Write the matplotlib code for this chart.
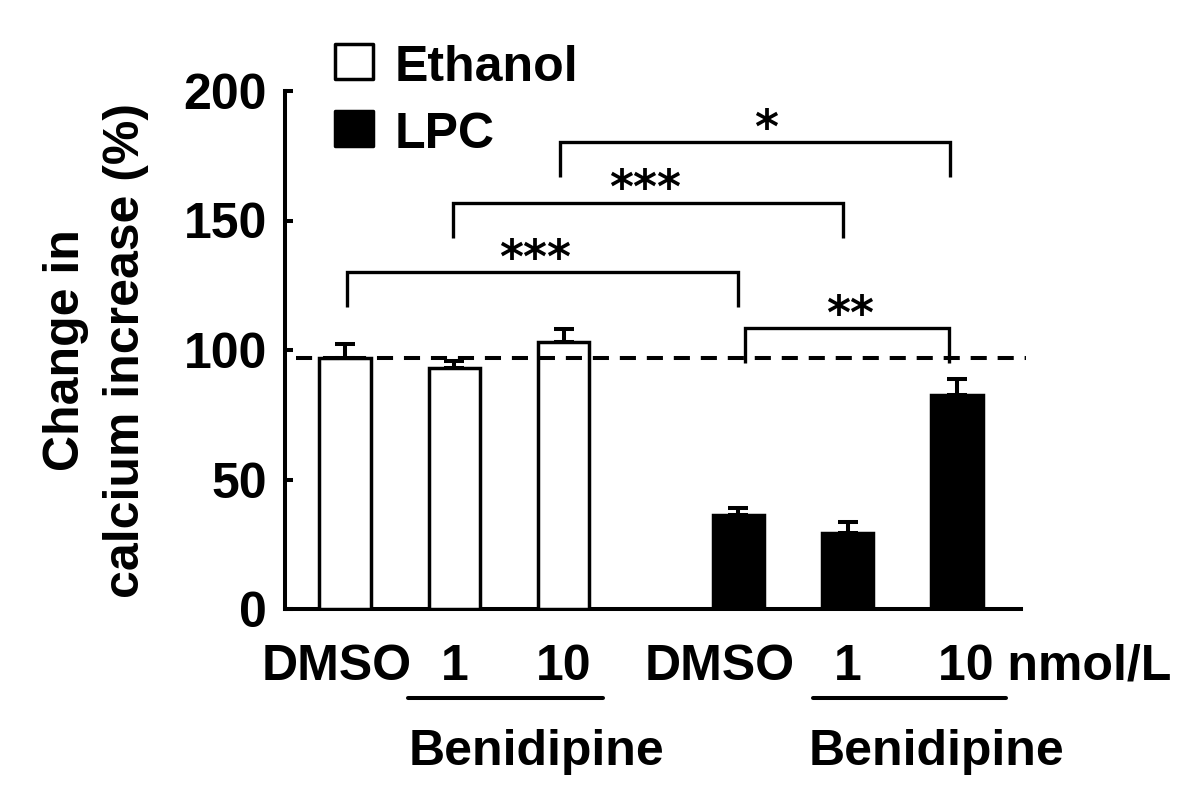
import matplotlib
matplotlib.use('Agg')
import numpy as np
import matplotlib.pyplot as plt
from matplotlib.patches import Rectangle

# ---- data ----
categories = ['DMSO', '1', '10', 'DMSO', '1', '10']
groups = ['Ethanol', 'Ethanol', 'Ethanol', 'LPC', 'LPC', 'LPC']
means = [97.0, 92.9, 103.1, 36.3, 29.2, 82.7]
sems = [5.3, 3.0, 4.9, 2.8, 4.3, 6.1]
reference_level = 97
yticks = [0, 50, 100, 150, 200]
bracket_pairs = [(0, 3), (1, 4), (2, 5), (3, 5)]
bracket_heights = [130.0, 156.9, 180.2, 108.4]
bracket_labels = ['***', '***', '*', '**']
legend_labels = ['Ethanol', 'LPC']
unit_label = 'nmol/L'
drug_label = 'Benidipine'
ylabel_lines = ['Change in', 'calcium increase (%)']

# ---- style ----
SANS = ['Liberation Sans', 'DejaVu Sans']
FS = 36
LW = 2.9
colors = {'Ethanol': 'white', 'LPC': 'black'}

fig = plt.figure(figsize=(12, 7.93), dpi=100)
ax = fig.add_axes([285 / 1200, 1 - 609 / 793, (1021 - 285) / 1200, (609 - 91) / 793])

x = np.arange(len(means)) + np.array([0.0 if g == 'Ethanol' else 0.6 for g in groups])

ax.bar(x, means, width=0.47, color=[colors[g] for g in groups],
       edgecolor='black', linewidth=2.5, zorder=3)
ax.errorbar(x, means, yerr=[np.zeros(len(sems)), sems], fmt='none', ecolor='black',
            elinewidth=LW, capsize=7.5, capthick=LW, zorder=2)

ax.axhline(reference_level, xmin=0.015, xmax=1.007, color='black', lw=LW,
           ls=(0, (4, 2.7)), clip_on=False, zorder=4)

ax.set_xlim(-0.549, 6.185)
ax.set_ylim(0, 200)
ax.set_yticks(yticks)
ax.set_yticklabels([str(t) for t in yticks], fontsize=FS, fontweight='bold', family=SANS)
ax.set_xticks([])
ax.tick_params(axis='y', direction='in', length=6, width=LW, pad=13)
for s in ['top', 'right']:
    ax.spines[s].set_visible(False)
for s in ['left', 'bottom']:
    ax.spines[s].set_linewidth(LW)

# significance brackets
end_offsets = [(0.02, 0.0), (-0.015, -0.04), (-0.03, -0.065), (0.06, -0.07)]
text_offsets = [-0.07, -0.03, 0.1, 0.03]
leg = 13.5
for (i, j), h, lab, (dl, dr), to in zip(bracket_pairs, bracket_heights, bracket_labels,
                                        end_offsets, text_offsets):
    x1, x2 = x[i] + dl, x[j] + dr
    ax.plot([x1, x1, x2, x2], [h - leg, h, h, h - leg], color='black', lw=2.4,
            solid_joinstyle='miter', solid_capstyle='butt', clip_on=False, zorder=5)
    ax.text((x1 + x2) / 2 + to, h - 0.3, lab, ha='center', va='baseline',
            fontsize=33, fontweight='bold', family=['DejaVu Sans'], clip_on=False)

# x category labels
label_x = [-0.08, 1.0, 2.0, 3.43, 4.6]
for lx, lab in zip(label_x, categories[:5]):
    ax.text(lx, -27.4, lab, ha='center', va='baseline', fontsize=FS,
            fontweight='bold', family=SANS, clip_on=False)
ax.text(5.43, -27.4, categories[5] + ' ' + unit_label, ha='left', va='baseline',
        fontsize=FS, fontweight='bold', family=SANS, clip_on=False)

# drug underline + label
for (ux1, ux2), bx in [((0.576, 2.36), 1.752), ((4.28, 6.05), 5.41)]:
    ax.plot([ux1, ux2], [-34.4, -34.4], color='black', lw=LW, solid_capstyle='round',
            clip_on=False)
    ax.text(bx, -60.2, drug_label, ha='center', va='baseline', fontsize=FS,
            fontweight='bold', family=SANS, clip_on=False)

# legend
W, H = 1200, 793
for k, (lab, ytop) in enumerate(zip(legend_labels, [44, 111])):
    fig.patches.append(Rectangle((335 / W, 1 - (ytop + 35) / H), 38 / W, 35 / H,
                                 transform=fig.transFigure, facecolor=colors[lab],
                                 edgecolor='black', linewidth=2.5,
                                 joinstyle='round'))
    fig.text(395 / W, 1 - (ytop + 37) / H, lab, ha='left', va='baseline', fontsize=FS,
             fontweight='bold', family=SANS)

# y label (two lines)
for lx, line in zip([66, 126], ylabel_lines):
    fig.text(lx / W, 1 - 350 / H, line, rotation=90, ha='center', va='center',
             fontsize=FS, fontweight='bold', family=SANS)

fig.savefig('out.png', dpi=100)
